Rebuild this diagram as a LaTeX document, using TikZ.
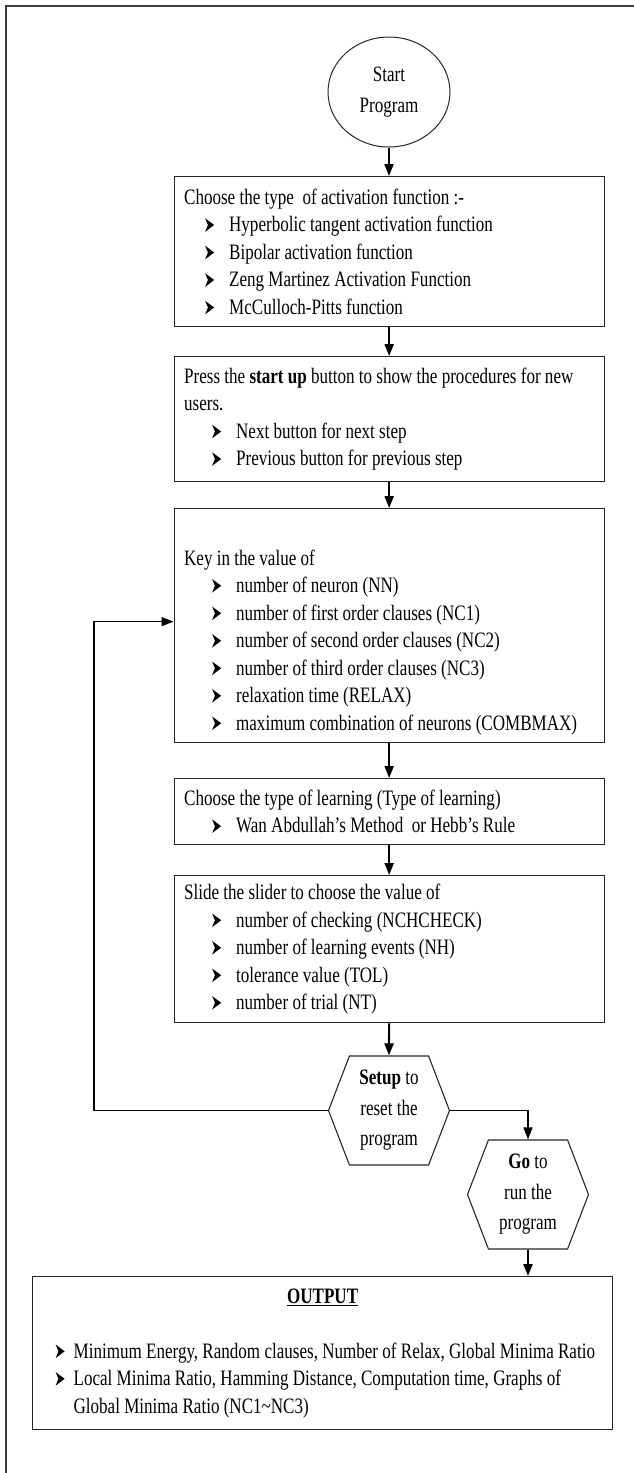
\documentclass[tikz,border=0pt]{standalone}
\usepackage{fontspec}
\setmainfont{Liberation Serif}[FakeStretch=0.775]
\usepackage{tikz}
\usetikzlibrary{shapes,arrows.meta,positioning}
\usepackage{xcolor}

\newcommand{\bularrow}{\tikz[baseline=0pt,x=1pt,y=1pt]\fill (0,0) -- (9,6.8) -- (0,13.5) -- (2.8,6.8) -- cycle;}
\newcommand{\bitem}[3][24pt]{\hspace*{#2}\makebox[#1][l]{\bularrow}#3}

\tikzset{
  stepbox/.style={draw=black!85, line width=1.3pt, anchor=north west, text width=410pt,
    inner xsep=10pt, inner ysep=0pt, align=flush left, font=\fontsize{22}{27.5}\selectfont},
  hexbox/.style={draw=black!85, line width=1.1pt, shape=signal, signal to=west and east,
    signal pointer angle=138, minimum width=121pt, minimum height=109pt, inner sep=0pt,
    align=center, font=\fontsize{22}{30.5}\selectfont},
  flowarrow/.style={-{Triangle[length=12pt,width=9pt]}, line width=2.2pt},
  loopline/.style={-{Triangle[length=12pt,width=9pt]}, line width=1.3pt}
}

\begin{document}
\begin{tikzpicture}[x=1pt,y=-1pt]
  \useasboundingbox (0,0) rectangle (634,1473);
  % Rahmen
  \draw[black!75, line width=1.5pt] (6,1490) -- (6,6) -- (650,6);

  % Start
  \node[draw=black!85, line width=1pt, ellipse, minimum width=122pt, minimum height=110pt,
    align=center, font=\fontsize{22}{30.5}\selectfont] (start) at (389,92) {Start\\Program};

  % Eingabe-Schritte
  \node[stepbox, minimum height=150pt] (actfn) at (173.5,176) {Choose the type\ \ of activation function :-\\
    \bitem{21pt}{Hyperbolic tangent activation function}\\
    \bitem{21pt}{Bipolar activation function}\\
    \bitem{21pt}{Zeng Martinez Activation Function}\\
    \bitem{21pt}{McCulloch-Pitts function}};

  \node[stepbox, minimum height=125pt] (startup) at (173.5,356) {Press the \textbf{start up} button to show the procedures for new\\
    users.\\
    \bitem{28pt}{Next button for next step}\\
    \bitem{28pt}{Previous button for previous step}};

  \node[stepbox, minimum height=234pt] (keyin) at (173.5,508) {\mbox{}\\[21pt]
    Key in the value of\\
    \bitem{28pt}{number of neuron (NN)}\\
    \bitem{28pt}{number of first order clauses (NC1)}\\
    \bitem{28pt}{number of second order clauses (NC2)}\\
    \bitem{28pt}{number of third order clauses (NC3)}\\
    \bitem{28pt}{relaxation time (RELAX)}\\
    \bitem{28pt}{maximum combination of neurons (COMBMAX)}};

  \node[stepbox, minimum height=66pt] (learn) at (173.5,778) {Choose the type of learning (Type of learning)\\
    \bitem{28pt}{Wan Abdullah’s Method\ \ or Hebb’s Rule}};

  \node[stepbox, minimum height=147pt] (slider) at (173.5,875) {Slide the slider to choose the value of\\
    \bitem{28pt}{number of checking (NCHCHECK)}\\
    \bitem{28pt}{number of learning events (NH)}\\
    \bitem{28pt}{tolerance value (TOL)}\\
    \bitem{28pt}{number of trial (NT)}};

  % Setup und Go
  \node[hexbox] (setup) at (389,1110.5) {\textbf{Setup} to\\reset the\\program};
  \node[hexbox] (go) at (528,1194.5) {\textbf{Go} to\\run the\\program};

  % Ausgabe
  \node[stepbox, text width=560pt, minimum height=153pt] (output) at (32,1276) {\makebox[\linewidth]{\underline{\textbf{OUTPUT}}}\\[27.5pt]
    \bitem[18pt]{13pt}{Minimum Energy, Random clauses, Number of Relax, Global Minima Ratio}\\
    \bitem[18pt]{13pt}{Local Minima Ratio, Hamming Distance, Computation time, Graphs of}\\
    \hspace*{31pt}Global Minima Ratio (NC1\textasciitilde NC3)};

  % Pfeile
  \draw[flowarrow] (start.south) -- (start.south |- actfn.north);
  \draw[flowarrow] (actfn.south) -- (startup.north);
  \draw[flowarrow] (startup.south) -- (keyin.north);
  \draw[flowarrow] (keyin.south) -- (learn.north);
  \draw[flowarrow] (learn.south) -- (slider.north);
  \draw[flowarrow] (slider.south) -- (setup.north);
  \draw[loopline] (setup.east) -| (go.north);
  \draw[flowarrow] (go.south) -- (go.south |- output.north);
  \coordinate (loop) at (94,1110.5);
  \draw[loopline] (setup.west) -- (loop) |- ([yshift=4pt]keyin.west);
\end{tikzpicture}
\end{document}
